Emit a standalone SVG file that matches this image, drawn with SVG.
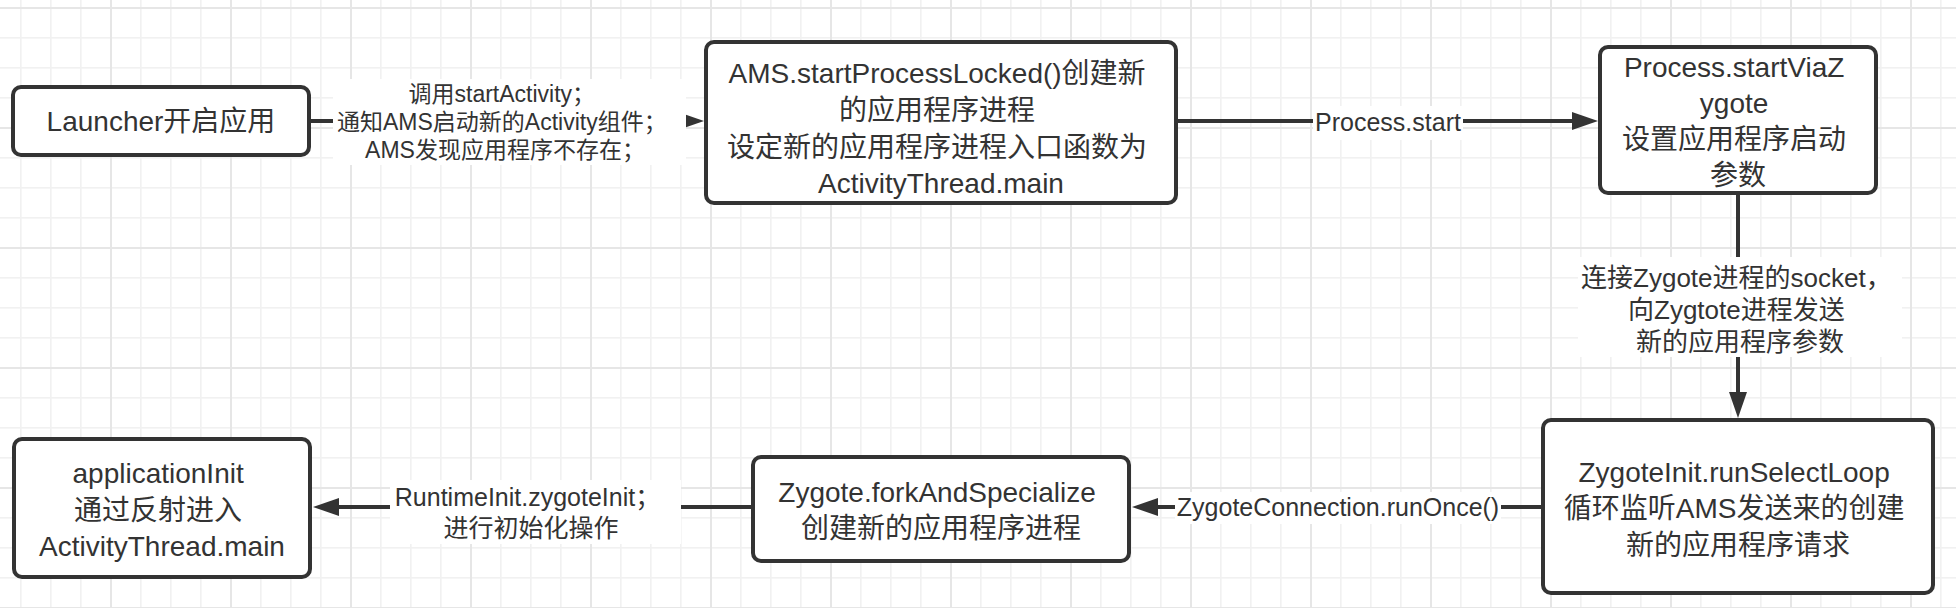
<svg xmlns="http://www.w3.org/2000/svg" width="1956" height="608" viewBox="0 0 1956 608">
<defs>
<pattern id="grid" patternUnits="userSpaceOnUse" x="-10" y="7" width="120" height="120">
<rect x="0" y="0" width="120" height="120" fill="#ffffff"/>
<rect x="30" y="0" width="1.6" height="120" fill="#f1f1f1"/>
<rect x="60" y="0" width="1.6" height="120" fill="#f1f1f1"/>
<rect x="90" y="0" width="1.6" height="120" fill="#f1f1f1"/>
<rect x="0" y="30" width="120" height="1.6" fill="#f1f1f1"/>
<rect x="0" y="60" width="120" height="1.6" fill="#f1f1f1"/>
<rect x="0" y="90" width="120" height="1.6" fill="#f1f1f1"/>
<rect x="0" y="0" width="2" height="120" fill="#e6e6e6"/>
<rect x="0" y="0" width="120" height="2" fill="#e6e6e6"/>
</pattern>
<marker id="arrow" markerUnits="userSpaceOnUse" markerWidth="28" markerHeight="20" refX="0" refY="9" orient="auto">
<path d="M0,0 L26,9 L0,18 Z" fill="#333333"/>
</marker>
</defs>
<style>
.node rect { fill: #ffffff; stroke: #333333; stroke-width: 4; }
.node text { font-family: "Liberation Sans", "Noto Sans CJK SC", sans-serif; font-size: 28px; fill: #333333; text-anchor: middle; }
.edge { stroke: #333333; stroke-width: 4; fill: none; marker-end: url(#arrow); }
.lbg { fill: #ffffff; }
.lbl { font-family: "Liberation Sans", "Noto Sans CJK SC", sans-serif; font-size: 25px; fill: #333333; text-anchor: middle; }
</style>
<rect x="0" y="0" width="1956" height="608" fill="url(#grid)"/>

<g id="connectors">
<line class="edge" x1="311" y1="121" x2="678" y2="121"/>
<line class="edge" x1="1178" y1="121" x2="1572" y2="121"/>
<line class="edge" x1="1738" y1="195" x2="1738" y2="392"/>
<line class="edge" x1="1541" y1="507" x2="1158" y2="507"/>
<line class="edge" x1="751" y1="507" x2="339" y2="507"/>

<g id="label-startActivity">
<rect class="lbg" x="333" y="79" width="353" height="86"/>
<text class="lbl" style="font-size:23px" x="505">
<tspan x="505" y="102">调用startActivity；</tspan>
<tspan x="505" y="130">通知AMS启动新的Activity组件；</tspan>
<tspan x="505" y="158">AMS发现应用程序不存在；</tspan>
</text>
</g>
<g id="label-process-start">
<rect class="lbg" x="1313" y="106" width="150" height="34"/>
<text class="lbl" x="1388" y="131">Process.start</text>
</g>
<g id="label-socket">
<rect class="lbg" x="1578" y="257" width="324" height="100"/>
<text class="lbl" style="font-size:26px">
<tspan x="1740" y="287">连接Zygote进程的socket，</tspan>
<tspan x="1740" y="319">向Zygtote进程发送</tspan>
<tspan x="1740" y="351">新的应用程序参数</tspan>
</text>
</g>
<g id="label-runOnce">
<rect class="lbg" x="1175" y="492" width="326" height="32"/>
<text class="lbl" x="1338" y="516">ZygoteConnection.runOnce()</text>
</g>
<g id="label-zygoteInit">
<rect class="lbg" x="390" y="480" width="291" height="64"/>
<text class="lbl">
<tspan x="531" y="506">RuntimeInit.zygoteInit；</tspan>
<tspan x="531" y="537">进行初始化操作</tspan>
</text>
</g>
</g>

<g id="node-launcher" class="node">
<rect x="13" y="87" width="296" height="68" rx="8"/>
<text x="161" y="131">Launcher开启应用</text>
</g>
<g id="node-ams" class="node">
<rect x="706" y="42" width="470" height="161" rx="8"/>
<text>
<tspan x="941" y="83">AMS.startProcessLocked()创建新</tspan>
<tspan x="941" y="120">的应用程序进程</tspan>
<tspan x="941" y="157">设定新的应用程序进程入口函数为</tspan>
<tspan x="941" y="193">ActivityThread.main</tspan>
</text>
</g>
<g id="node-process" class="node">
<rect x="1600" y="47" width="276" height="146" rx="8"/>
<text>
<tspan x="1738" y="77">Process.startViaZ</tspan>
<tspan x="1738" y="113">ygote</tspan>
<tspan x="1738" y="149">设置应用程序启动</tspan>
<tspan x="1738" y="185">参数</tspan>
</text>
</g>
<g id="node-zygoteinit" class="node">
<rect x="1543" y="420" width="390" height="173" rx="8"/>
<text>
<tspan x="1738" y="482">ZygoteInit.runSelectLoop</tspan>
<tspan x="1738" y="518">循环监听AMS发送来的创建</tspan>
<tspan x="1738" y="555">新的应用程序请求</tspan>
</text>
</g>
<g id="node-fork" class="node">
<rect x="753" y="457" width="376" height="104" rx="8"/>
<text>
<tspan x="941" y="502">Zygote.forkAndSpecialize</tspan>
<tspan x="941" y="538">创建新的应用程序进程</tspan>
</text>
</g>
<g id="node-appinit" class="node">
<rect x="14" y="439" width="296" height="138" rx="8"/>
<text>
<tspan x="162" y="483">applicationInit</tspan>
<tspan x="162" y="520">通过反射进入</tspan>
<tspan x="162" y="556">ActivityThread.main</tspan>
</text>
</g>
</svg>
